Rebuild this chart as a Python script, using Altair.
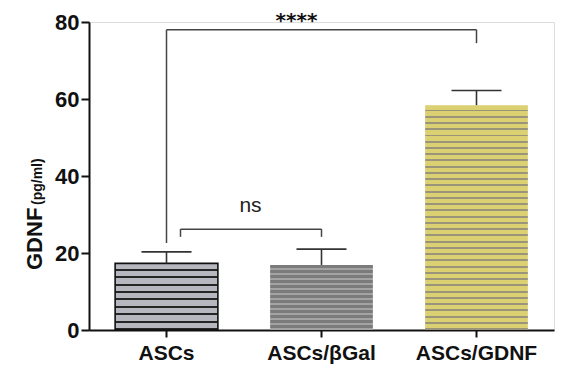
import altair as alt
import pandas as pd

# ---- data ----
groups = ["ASCs", "ASCs/βGal", "ASCs/GDNF"]
means = [17.3, 16.9, 58.4]
upper = [20.3, 21.0, 62.2]          # mean + error

# significance brackets (values in pg/ml)
big_top = 78.0
big_left_bottom = 22.6
big_right_bottom = 74.5
ns_top = 26.2
ns_bottom = 24.2
star_label = "****"
ns_label = "ns"

FONT = "Liberation Sans"

df = pd.DataFrame({"group": groups, "mean": means, "upper": upper})

x_scale = alt.Scale(domain=groups, paddingInner=0.337, paddingOuter=0.1685)
y_scale = alt.Scale(domain=[0, 80], nice=False)


def stripes(base, line, n, frac):
    stops = []
    for i in range(n):
        a = i / n
        m = (i + 1 - frac) / n
        b = (i + 1) / n
        stops += [
            {"offset": a, "color": base},
            {"offset": m, "color": base},
            {"offset": m, "color": line},
            {"offset": b, "color": line},
        ]
    return {"gradient": "linear", "x1": 0, "y1": 0, "x2": 0, "y2": 1, "stops": stops}


bar_styles = [
    dict(fill=stripes("#b7b7c0", "#262626", 9, 0.27), stroke="#111111", strokeWidth=1.6),
    dict(fill=stripes("#7b7b7b", "#a3a3a3", 13, 0.4), strokeWidth=0),
    dict(fill=stripes("#dbd072", "#9a9478", 36, 0.3), strokeWidth=0),
]

base = alt.Chart(df)
x_enc = alt.X(
    "group:N",
    scale=x_scale,
    sort=groups,
    axis=alt.Axis(
        title=None, labelAngle=0, labelFont=FONT, labelFontSize=21, labelFontWeight="bold",
        labelColor="#111111", domainColor="#111111", domainWidth=2, tickColor="#111111",
        tickWidth=2, tickSize=7, labelPadding=5,
    ),
)
y_enc = alt.Y(
    "mean:Q",
    scale=y_scale,
    axis=alt.Axis(
        title=None, values=[0, 20, 40, 60, 80], grid=False, labelFont=FONT, labelFontSize=22,
        labelFontWeight="bold", labelColor="#111111", domainColor="#111111", domainWidth=2,
        tickColor="#111111", tickWidth=2, tickSize=8, labelPadding=2,
    ),
)

bars = []
for g, st in zip(groups, bar_styles):
    bars.append(
        base.transform_filter(alt.datum.group == g)
        .mark_bar(**st)
        .encode(x=x_enc, y=y_enc)
    )

err_line = base.mark_rule(color="#333333", strokeWidth=1.6).encode(
    x=alt.X("group:N", scale=x_scale, sort=groups),
    y=alt.Y("mean:Q", scale=y_scale),
    y2="upper:Q",
)
err_cap = base.mark_rule(color="#333333", strokeWidth=1.6, xOffset=-25, x2Offset=25).encode(
    x=alt.X("group:N", scale=x_scale, sort=groups),
    x2="group:N",
    y=alt.Y("upper:Q", scale=y_scale),
)

# brackets
big_h = pd.DataFrame({"a": [groups[0]], "b": [groups[2]], "y": [big_top]})
big_v = pd.DataFrame({"a": [groups[0], groups[2]], "y": [big_top, big_top],
                      "y2": [big_left_bottom, big_right_bottom]})
bcol = "#444444"
big_h_l = alt.Chart(big_h).mark_rule(color=bcol, strokeWidth=1.5).encode(
    x=alt.X("a:N", scale=x_scale, sort=groups), x2="b:N", y=alt.Y("y:Q", scale=y_scale))
big_v_l = alt.Chart(big_v).mark_rule(color=bcol, strokeWidth=1.5).encode(
    x=alt.X("a:N", scale=x_scale, sort=groups), y=alt.Y("y:Q", scale=y_scale), y2="y2:Q")

ns_h = pd.DataFrame({"a": [groups[0]], "b": [groups[1]], "y": [ns_top]})
ns_vl = pd.DataFrame({"a": [groups[0]], "y": [ns_top], "y2": [ns_bottom]})
ns_vr = pd.DataFrame({"a": [groups[1]], "y": [ns_top], "y2": [ns_bottom]})
ns_h_l = alt.Chart(ns_h).mark_rule(color=bcol, strokeWidth=1.5, xOffset=14).encode(
    x=alt.X("a:N", scale=x_scale, sort=groups), x2="b:N", y=alt.Y("y:Q", scale=y_scale))
ns_vl_l = alt.Chart(ns_vl).mark_rule(color=bcol, strokeWidth=1.5, xOffset=14).encode(
    x=alt.X("a:N", scale=x_scale, sort=groups), y=alt.Y("y:Q", scale=y_scale), y2="y2:Q")
ns_vr_l = alt.Chart(ns_vr).mark_rule(color=bcol, strokeWidth=1.5).encode(
    x=alt.X("a:N", scale=x_scale, sort=groups), y=alt.Y("y:Q", scale=y_scale), y2="y2:Q")

labels = pd.DataFrame({"a": [groups[1], groups[1]], "y": [big_top, 30.6],
                       "t": [star_label, ns_label]})
star_t = alt.Chart(labels.iloc[[0]]).mark_text(
    font="DejaVu Sans", fontSize=20, fontWeight="bold", color="#111111", baseline="alphabetic",
    align="center", dx=-25, dy=-3,
).encode(x=alt.X("a:N", scale=x_scale, sort=groups), y=alt.Y("y:Q", scale=y_scale), text="t:N")
ns_t = alt.Chart(labels.iloc[[1]]).mark_text(
    font=FONT, fontSize=21, color="#222222", baseline="alphabetic", align="center", dx=-71,
).encode(x=alt.X("a:N", scale=x_scale, sort=groups), y=alt.Y("y:Q", scale=y_scale), text="t:N")

# y-axis title in two sizes
title_df = pd.DataFrame({"t": ["GDNF"]})
title_df2 = pd.DataFrame({"t": ["(pg/ml)"]})
t1 = alt.Chart(title_df).mark_text(
    font=FONT, fontSize=22, fontWeight="bold", color="#111111", angle=270,
    align="left", baseline="alphabetic",
).encode(x=alt.value(-47), y=alt.value(248), text="t:N")
t2 = alt.Chart(title_df2).mark_text(
    font=FONT, fontSize=14, fontWeight="bold", color="#111111", angle=270,
    align="left", baseline="alphabetic",
).encode(x=alt.value(-47), y=alt.value(183), text="t:N")

chart = alt.layer(
    *bars, err_line, err_cap, big_h_l, big_v_l, ns_h_l, ns_vl_l, ns_vr_l, star_t, ns_t, t1, t2
).properties(
    width=465, height=308,
    padding={"left": 81, "top": 14, "right": 14, "bottom": 34},
    autosize="none",
).configure_view(stroke=None).configure(background="white")

chart.save("out.html", embed_options={"renderer": "svg", "actions": False})
